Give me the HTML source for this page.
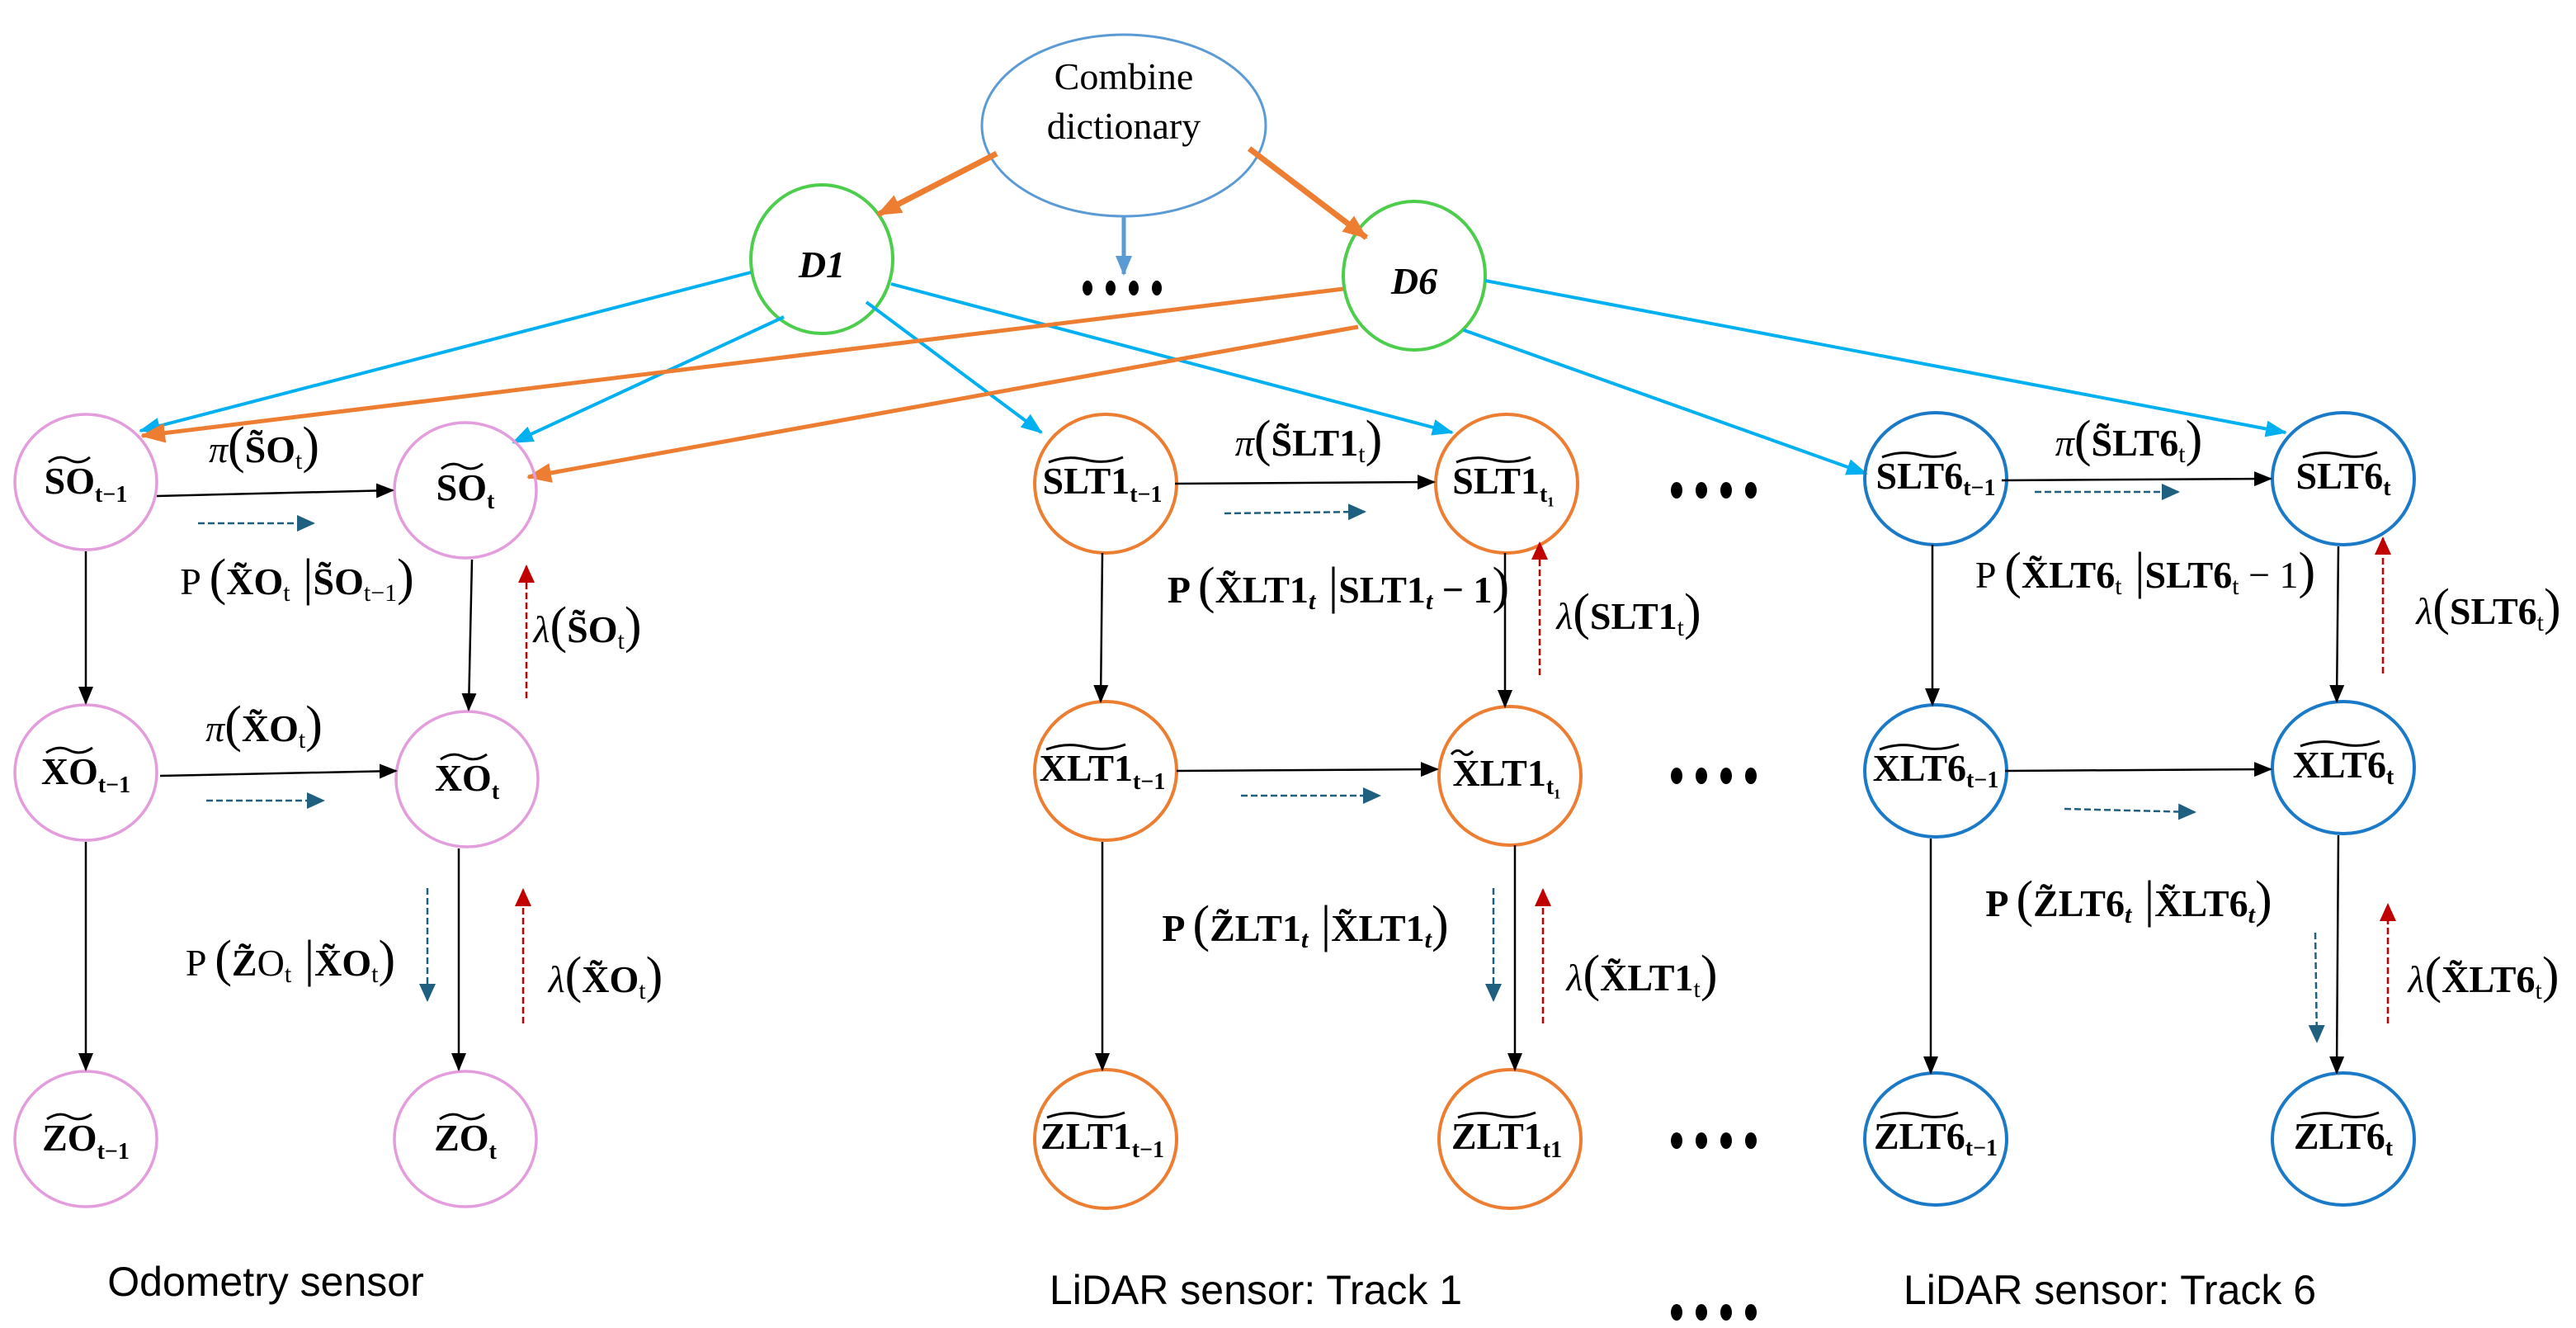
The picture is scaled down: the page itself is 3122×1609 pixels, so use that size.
<!DOCTYPE html>
<html><head><meta charset="utf-8"><style>
html,body{margin:0;padding:0;background:#fff;}
svg{display:block;}
.n{font-family:"Liberation Serif",serif;font-weight:bold;font-size:46px;fill:#000;}
.s{font-size:28px;font-weight:bold;}
.m{font-family:"Liberation Serif",serif;font-size:46px;fill:#000;}
.mb{font-family:"Liberation Serif",serif;font-size:46px;font-weight:bold;fill:#000;}
.p{font-size:62px;font-weight:normal;font-style:normal;}
.cap{font-family:"Liberation Sans",sans-serif;font-size:50px;fill:#000;}
</style></head><body>
<svg width="3122" height="1609" viewBox="0 0 3122 1609" xmlns="http://www.w3.org/2000/svg">
<defs>
<marker id="abk" markerWidth="22" markerHeight="22" refX="20" refY="11" orient="auto" markerUnits="userSpaceOnUse"><path d="M0,2 L22,11 L0,20 z" fill="#000"/></marker>
<marker id="acy" markerWidth="26" markerHeight="26" refX="24" refY="13" orient="auto" markerUnits="userSpaceOnUse"><path d="M0,3 L26,13 L0,23 z" fill="#00b0f0"/></marker>
<marker id="aor" markerWidth="30" markerHeight="30" refX="28" refY="15" orient="auto" markerUnits="userSpaceOnUse"><path d="M0,3 L30,15 L0,27 z" fill="#ed7d31"/></marker>
<marker id="abl" markerWidth="24" markerHeight="24" refX="22" refY="12" orient="auto" markerUnits="userSpaceOnUse"><path d="M0,2 L24,12 L0,22 z" fill="#5b9bd5"/></marker>
<marker id="atl" markerWidth="22" markerHeight="22" refX="20" refY="11" orient="auto" markerUnits="userSpaceOnUse"><path d="M0,1 L22,11 L0,21 z" fill="#1f5f7f"/></marker>
<marker id="ard" markerWidth="22" markerHeight="22" refX="20" refY="11" orient="auto" markerUnits="userSpaceOnUse"><path d="M0,1 L22,11 L0,21 z" fill="#c00000"/></marker>
</defs>

<!-- top -->
<ellipse cx="1362" cy="152" rx="172" ry="110" fill="none" stroke="#5b9bd5" stroke-width="3"/>
<text x="1362" y="108" text-anchor="middle" class="m" font-size="54">Combine</text>
<text x="1362" y="168" text-anchor="middle" class="m" font-size="54">dictionary</text>
<ellipse cx="996" cy="314" rx="86" ry="90" fill="none" stroke="#4ccd4c" stroke-width="4"/>
<text x="996" y="336" text-anchor="middle" class="mb" font-style="italic" font-size="62">D1</text>
<ellipse cx="1714" cy="334" rx="86" ry="90" fill="none" stroke="#4ccd4c" stroke-width="4"/>
<text x="1714" y="356" text-anchor="middle" class="mb" font-style="italic" font-size="62">D6</text>
<line x1="1208" y1="186" x2="1064" y2="260" stroke="#ed7d31" stroke-width="7" marker-end="url(#aor)"/>
<line x1="1514" y1="180" x2="1656" y2="288" stroke="#ed7d31" stroke-width="7" marker-end="url(#aor)"/>
<line x1="1362" y1="262" x2="1362" y2="332" stroke="#5b9bd5" stroke-width="5" marker-end="url(#abl)"/>
<g fill="#000"><ellipse cx="1318" cy="349" rx="6" ry="9"/><ellipse cx="1346" cy="349" rx="6" ry="9"/><ellipse cx="1374" cy="349" rx="6" ry="9"/><ellipse cx="1402" cy="349" rx="6" ry="9"/></g>

<!-- cyan lines -->
<g stroke="#00b0f0" stroke-width="4" fill="none">
<line x1="910" y1="330" x2="170" y2="522" marker-end="url(#acy)"/>
<line x1="950" y1="384" x2="622" y2="536" marker-end="url(#acy)"/>
<line x1="1050" y1="366" x2="1262" y2="524" marker-end="url(#acy)"/>
<line x1="1080" y1="344" x2="1760" y2="524" marker-end="url(#acy)"/>
<line x1="1774" y1="400" x2="2262" y2="574" marker-end="url(#acy)"/>
<line x1="1800" y1="340" x2="2770" y2="524" marker-end="url(#acy)"/>
</g>
<g stroke="#ed7d31" stroke-width="5" fill="none">
<line x1="1628" y1="350" x2="172" y2="528" marker-end="url(#aor)"/>
<line x1="1646" y1="396" x2="640" y2="578" marker-end="url(#aor)"/>
</g>

<!-- nodes -->
<g fill="none" stroke-width="3.5">
<g stroke="#e39ddc">
<ellipse cx="104" cy="584" rx="86" ry="82"/><ellipse cx="564" cy="594" rx="86" ry="82"/>
<ellipse cx="104" cy="936" rx="86" ry="82"/><ellipse cx="566" cy="944" rx="86" ry="82"/>
<ellipse cx="104" cy="1380" rx="86" ry="82"/><ellipse cx="564" cy="1380" rx="86" ry="82"/>
</g>
<g stroke="#ed7d31" stroke-width="4">
<ellipse cx="1340" cy="586" rx="86" ry="84"/><ellipse cx="1826" cy="586" rx="86" ry="84"/>
<ellipse cx="1340" cy="934" rx="86" ry="84"/><ellipse cx="1830" cy="940" rx="86" ry="84"/>
<ellipse cx="1340" cy="1380" rx="86" ry="84"/><ellipse cx="1830" cy="1380" rx="86" ry="84"/>
</g>
<g stroke="#1a7ac8" stroke-width="4">
<ellipse cx="2346" cy="580" rx="86" ry="80"/><ellipse cx="2840" cy="580" rx="86" ry="80"/>
<ellipse cx="2346" cy="934" rx="86" ry="80"/><ellipse cx="2840" cy="930" rx="86" ry="80"/>
<ellipse cx="2346" cy="1380" rx="86" ry="80"/><ellipse cx="2840" cy="1380" rx="86" ry="80"/>
</g>
</g>

<!-- node labels -->
<g class="n" text-anchor="middle">
<text x="104" y="598">SO<tspan class="s" dy="10">t−1</tspan></text>
<text x="564" y="606">SO<tspan class="s" dy="10">t</tspan></text>
<text x="104" y="950">XO<tspan class="s" dy="10">t−1</tspan></text>
<text x="566" y="958">XO<tspan class="s" dy="10">t</tspan></text>
<text x="104" y="1394">ZO<tspan class="s" dy="10">t−1</tspan></text>
<text x="564" y="1394">ZO<tspan class="s" dy="10">t</tspan></text>
<text x="1336" y="598">SLT1<tspan class="s" dy="10">t−1</tspan></text>
<text x="1822" y="598">SLT1<tspan class="s" dy="10">t₁</tspan></text>
<text x="1336" y="946">XLT1<tspan class="s" dy="10">t−1</tspan></text>
<text x="1826" y="952">XLT1<tspan class="s" dy="10">t₁</tspan></text>
<text x="1336" y="1392">ZLT1<tspan class="s" dy="10">t−1</tspan></text>
<text x="1826" y="1392">ZLT1<tspan class="s" dy="10">t1</tspan></text>
<text x="2346" y="592">SLT6<tspan class="s" dy="8">t−1</tspan></text>
<text x="2840" y="592">SLT6<tspan class="s" dy="8">t</tspan></text>
<text x="2346" y="946">XLT6<tspan class="s" dy="8">t−1</tspan></text>
<text x="2840" y="942">XLT6<tspan class="s" dy="8">t</tspan></text>
<text x="2346" y="1392">ZLT6<tspan class="s" dy="8">t−1</tspan></text>
<text x="2840" y="1392">ZLT6<tspan class="s" dy="8">t</tspan></text>
</g>
<!-- tildes -->
<g stroke="#000" stroke-width="3" fill="none">
<path d="M59,560 q12,-10 25,-3 q13,7 25,-3"/>
<path d="M535,568 q12,-10 25,-3 q13,7 25,-3"/>
<path d="M56,912 q14,-10 28,-3 q14,7 28,-3"/>
<path d="M534,920 q14,-10 28,-3 q14,7 28,-3"/>
<path d="M57,1356 q14,-10 27,-3 q13,7 27,-3"/>
<path d="M533,1356 q14,-10 27,-3 q13,7 27,-3"/>
<path d="M1271,560 q22,-9 45,-3 q23,6 45,-3"/>
<path d="M1765,560 q22,-9 45,-3 q23,6 45,-3"/>
<path d="M1268,908 q24,-9 48,-3 q24,6 48,-3"/>
<path d="M1759,914 q7,-8 13,-2 q6,6 13,-2"/>
<path d="M1269,1354 q23,-9 47,-3 q24,6 47,-3"/>
<path d="M1767,1354 q23,-9 47,-3 q24,6 47,-3"/>
<path d="M2281,554 q22,-9 45,-3 q23,6 45,-3"/>
<path d="M2791,554 q22,-9 45,-3 q23,6 45,-3"/>
<path d="M2278,908 q24,-9 48,-3 q24,6 48,-3"/>
<path d="M2788,904 q24,-9 48,-3 q24,6 48,-3"/>
<path d="M2279,1354 q23,-9 47,-3 q24,6 47,-3"/>
<path d="M2789,1354 q23,-9 47,-3 q24,6 47,-3"/>
</g>

<!-- black arrows -->
<g stroke="#000" stroke-width="2.5" marker-end="url(#abk)">
<line x1="190" y1="601" x2="476" y2="594"/>
<line x1="194" y1="940" x2="480" y2="934"/>
<line x1="104" y1="668" x2="104" y2="852"/>
<line x1="572" y1="678" x2="568" y2="860"/>
<line x1="104" y1="1020" x2="104" y2="1296"/>
<line x1="556" y1="1028" x2="556" y2="1296"/>
<line x1="1424" y1="586" x2="1738" y2="584"/>
<line x1="1426" y1="934" x2="1742" y2="932"/>
<line x1="1336" y1="670" x2="1334" y2="850"/>
<line x1="1824" y1="670" x2="1824" y2="856"/>
<line x1="1336" y1="1020" x2="1336" y2="1296"/>
<line x1="1836" y1="1024" x2="1836" y2="1296"/>
<line x1="2426" y1="582" x2="2752" y2="580"/>
<line x1="2430" y1="934" x2="2752" y2="932"/>
<line x1="2342" y1="660" x2="2342" y2="854"/>
<line x1="2834" y1="662" x2="2832" y2="850"/>
<line x1="2340" y1="1016" x2="2340" y2="1300"/>
<line x1="2834" y1="1012" x2="2832" y2="1300"/>
</g>
<!-- teal dashed -->
<g stroke="#1f5f7f" stroke-width="2.5" stroke-dasharray="8,4" marker-end="url(#atl)">
<line x1="240" y1="634" x2="380" y2="634"/>
<line x1="250" y1="970" x2="392" y2="970"/>
<line x1="518" y1="1076" x2="518" y2="1212"/>
<line x1="1484" y1="622" x2="1654" y2="620"/>
<line x1="1504" y1="964" x2="1672" y2="964"/>
<line x1="1810" y1="1076" x2="1810" y2="1212"/>
<line x1="2466" y1="596" x2="2640" y2="596"/>
<line x1="2502" y1="980" x2="2660" y2="984"/>
<line x1="2806" y1="1130" x2="2808" y2="1262"/>
</g>
<!-- red dashed -->
<g stroke="#c00000" stroke-width="2.5" stroke-dasharray="8,4" marker-end="url(#ard)">
<line x1="638" y1="846" x2="638" y2="686"/>
<line x1="634" y1="1240" x2="634" y2="1078"/>
<line x1="1866" y1="818" x2="1866" y2="658"/>
<line x1="1870" y1="1240" x2="1870" y2="1078"/>
<line x1="2888" y1="816" x2="2888" y2="652"/>
<line x1="2894" y1="1240" x2="2894" y2="1096"/>
</g>

<!-- edge labels -->
<text x="320" y="560" text-anchor="middle" class="m"><tspan font-style="italic">π</tspan><tspan class="p">(</tspan><tspan font-weight="bold">S̃O</tspan><tspan font-size="30" dy="8">t</tspan><tspan class="p" dy="-8">)</tspan></text>
<text x="360" y="720" text-anchor="middle" class="m">P <tspan class="p">(</tspan><tspan font-weight="bold">X̃O</tspan><tspan font-size="30" dy="8">t</tspan><tspan dy="-8" class="p"> |</tspan><tspan font-weight="bold">S̃O</tspan><tspan font-size="30" dy="8">t−1</tspan><tspan class="p" dy="-8">)</tspan></text>
<text x="712" y="778" text-anchor="middle" class="m"><tspan font-style="italic">λ</tspan><tspan class="p">(</tspan><tspan font-weight="bold">S̃O</tspan><tspan font-size="30" dy="8">t</tspan><tspan class="p" dy="-8">)</tspan></text>
<text x="320" y="898" text-anchor="middle" class="m"><tspan font-style="italic">π</tspan><tspan class="p">(</tspan><tspan font-weight="bold">X̃O</tspan><tspan font-size="30" dy="8">t</tspan><tspan class="p" dy="-8">)</tspan></text>
<text x="352" y="1182" text-anchor="middle" class="m">P <tspan class="p">(</tspan><tspan font-weight="bold">Z̃</tspan>O<tspan font-size="30" dy="8">t</tspan><tspan dy="-8" class="p"> |</tspan><tspan font-weight="bold">X̃O</tspan><tspan font-size="30" dy="8">t</tspan><tspan class="p" dy="-8">)</tspan></text>
<text x="734" y="1202" text-anchor="middle" class="m"><tspan font-style="italic">λ</tspan><tspan class="p">(</tspan><tspan font-weight="bold">X̃O</tspan><tspan font-size="30" dy="8">t</tspan><tspan class="p" dy="-8">)</tspan></text>

<text x="1586" y="552" text-anchor="middle" class="m"><tspan font-style="italic">π</tspan><tspan class="p">(</tspan><tspan font-weight="bold">S̃LT1</tspan><tspan font-size="30" dy="8">t</tspan><tspan class="p" dy="-8">)</tspan></text>
<text x="1622" y="730" text-anchor="middle" class="mb">P <tspan class="p">(</tspan>X̃LT1<tspan font-size="30" font-style="italic" dy="8">t</tspan><tspan dy="-8" class="p"> |</tspan>SLT1<tspan font-size="30" font-style="italic" dy="8">t</tspan><tspan dy="-8"> − 1</tspan><tspan class="p">)</tspan></text>
<text x="1974" y="762" text-anchor="middle" class="m"><tspan font-style="italic">λ</tspan><tspan class="p">(</tspan><tspan font-weight="bold">SLT1</tspan><tspan font-size="30" dy="8">t</tspan><tspan class="p" dy="-8">)</tspan></text>
<text x="1582" y="1140" text-anchor="middle" class="mb">P <tspan class="p">(</tspan>Z̃LT1<tspan font-size="30" font-style="italic" dy="8">t</tspan><tspan dy="-8" class="p"> |</tspan>X̃LT1<tspan font-size="30" font-style="italic" dy="8">t</tspan><tspan class="p" dy="-8">)</tspan></text>
<text x="1990" y="1200" text-anchor="middle" class="m"><tspan font-style="italic">λ</tspan><tspan class="p">(</tspan><tspan font-weight="bold">X̃LT1</tspan><tspan font-size="30" dy="8">t</tspan><tspan class="p" dy="-8">)</tspan></text>

<text x="2580" y="552" text-anchor="middle" class="m"><tspan font-style="italic">π</tspan><tspan class="p">(</tspan><tspan font-weight="bold">S̃LT6</tspan><tspan font-size="30" dy="8">t</tspan><tspan class="p" dy="-8">)</tspan></text>
<text x="2600" y="712" text-anchor="middle" class="m">P <tspan class="p">(</tspan><tspan font-weight="bold">X̃LT6</tspan><tspan font-size="30" dy="8">t</tspan><tspan dy="-8" class="p"> |</tspan><tspan font-weight="bold">SLT6</tspan><tspan font-size="30" dy="8">t</tspan><tspan dy="-8"> − 1</tspan><tspan class="p">)</tspan></text>
<text x="3016" y="756" text-anchor="middle" class="m"><tspan font-style="italic">λ</tspan><tspan class="p">(</tspan><tspan font-weight="bold">SLT6</tspan><tspan font-size="30" dy="8">t</tspan><tspan class="p" dy="-8">)</tspan></text>
<text x="2580" y="1110" text-anchor="middle" class="mb">P <tspan class="p">(</tspan>Z̃LT6<tspan font-size="30" font-style="italic" dy="8">t</tspan><tspan dy="-8" class="p"> |</tspan>X̃LT6<tspan font-size="30" font-style="italic" dy="8">t</tspan><tspan class="p" dy="-8">)</tspan></text>
<text x="3010" y="1202" text-anchor="middle" class="m"><tspan font-style="italic">λ</tspan><tspan class="p">(</tspan><tspan font-weight="bold">X̃LT6</tspan><tspan font-size="30" dy="8">t</tspan><tspan class="p" dy="-8">)</tspan></text>

<!-- dots -->
<g fill="#000">
<ellipse cx="2032" cy="594" rx="7" ry="10"/><ellipse cx="2062" cy="594" rx="7" ry="10"/><ellipse cx="2092" cy="594" rx="7" ry="10"/><ellipse cx="2122" cy="594" rx="7" ry="10"/>
<ellipse cx="2032" cy="940" rx="7" ry="10"/><ellipse cx="2062" cy="940" rx="7" ry="10"/><ellipse cx="2092" cy="940" rx="7" ry="10"/><ellipse cx="2122" cy="940" rx="7" ry="10"/>
<ellipse cx="2032" cy="1382" rx="7" ry="10"/><ellipse cx="2062" cy="1382" rx="7" ry="10"/><ellipse cx="2092" cy="1382" rx="7" ry="10"/><ellipse cx="2122" cy="1382" rx="7" ry="10"/>
<ellipse cx="2032" cy="1590" rx="7" ry="10"/><ellipse cx="2062" cy="1590" rx="7" ry="10"/><ellipse cx="2092" cy="1590" rx="7" ry="10"/><ellipse cx="2122" cy="1590" rx="7" ry="10"/>
</g>

<text x="322" y="1570" text-anchor="middle" class="cap">Odometry sensor</text>
<text x="1522" y="1580" text-anchor="middle" class="cap">LiDAR sensor: Track 1</text>
<text x="2557" y="1580" text-anchor="middle" class="cap">LiDAR sensor: Track 6</text>
</svg>
</body></html>
